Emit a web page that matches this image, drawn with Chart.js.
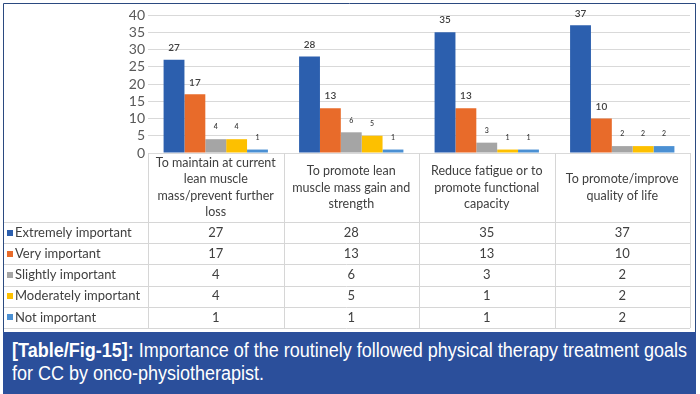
<!DOCTYPE html>
<html>
<head>
<meta charset="utf-8">
<script src="https://cdn.jsdelivr.net/npm/chart.js@4.4.1/dist/chart.umd.min.js"></script>
<style>
  body { margin: 0; background: #fff; width: 700px; height: 394px; overflow: hidden; position: relative; }
  #chart { position: absolute; left: 0; top: 0; }
  #caption {
    position: absolute; left: 3px; top: 332px; width: 693px; height: 62px;
    background: #2b4f9b; color: #fff; overflow: hidden;
  }
  #caption .inner {
    position: absolute; left: 9px; top: 7px; white-space: nowrap;
    font-family: "Liberation Sans", Arial, sans-serif; font-size: 20px; line-height: 23px;
    transform: scaleX(0.9); transform-origin: left top;
  }
  #caption b { font-weight: bold; }
</style>
</head>
<body>
<canvas id="chart" width="700" height="332"></canvas>
<div id="caption"><div class="inner"><b>[Table/Fig-15]:</b> Importance of the routinely followed physical therapy treatment goals<br>for CC by onco-physiotherapist.</div></div>
<script>
// categories (header cells, one entry per line)
const categories = [
    ['To maintain at current', 'lean muscle', 'mass/prevent further', 'loss'],
    ['To promote lean', 'muscle mass gain and', 'strength'],
    ['Reduce fatigue or to', 'promote functional', 'capacity'],
    ['To promote/improve', 'quality of life']
];

const seriesNames = ['Extremely important', 'Very important', 'Slightly important', 'Moderately important', 'Not important'];
const extremely = [27, 28, 35, 37];
const very = [17, 13, 13, 10];
const slightly = [4, 6, 3, 2];
const moderately = [4, 5, 1, 2];
const notImportant = [1, 1, 1, 2];

const yTicks = [0, 5, 10, 15, 20, 25, 30, 35, 40];

const colors = ['#2c5fae', '#e86b2a', '#a5a5a5', '#fdc000', '#4b90d3'];
const labelSizes = [10, 10, 7, 7, 7];

const TEXT = '#404040';
const FONT = 'Lato, "Open Sans", sans-serif';

// draws frame, value labels and the data table under the plot
const tablePlugin = {
    id: 'tablePlugin',
    afterDraw(chart) {
        const ctx = chart.ctx;
        const area = chart.chartArea;
        const xs = chart.scales.x;
        const n = categories.length;
        const colW = (area.right - area.left) / n;
        const frameL = 3, frameR = 695;
        const headTop = area.bottom, headH = 69, rowH = 21.2;

        ctx.save();

        // value labels above bars
        chart.data.datasets.forEach((ds, di) => {
            const meta = chart.getDatasetMeta(di);
            ctx.font = '600 ' + labelSizes[di] + 'px ' + FONT;
            ctx.fillStyle = TEXT;
            ctx.textAlign = 'center';
            ctx.textBaseline = 'middle';
            meta.data.forEach((bar, i) => {
                ctx.fillText(String(ds.data[i]), bar.x, bar.y - 12);
            });
        });

        // table grid
        ctx.strokeStyle = '#d6d6d6';
        ctx.lineWidth = 1;
        ctx.beginPath();
        for (let i = 0; i <= n; i++) {
            const x = Math.round(xs.getPixelForValue(0) - colW / 2 + i * colW) + 0.5;
            ctx.moveTo(x, headTop);
            ctx.lineTo(x, headTop + headH + rowH * seriesNames.length);
        }
        for (let r = 0; r <= seriesNames.length; r++) {
            const y = Math.round(headTop + headH + r * rowH) + 0.5;
            ctx.moveTo(frameL, y);
            ctx.lineTo(area.right, y);
        }
        ctx.stroke();

        // header text
        ctx.font = '12.5px ' + FONT;
        ctx.fillStyle = TEXT;
        ctx.textAlign = 'center';
        ctx.textBaseline = 'middle';
        const lineH = 16.3;
        categories.forEach((lines, i) => {
            const cx = xs.getPixelForValue(i);
            const cy = headTop + headH / 2;
            lines.forEach((t, k) => {
                ctx.fillText(t, cx, cy + (k - (lines.length - 1) / 2) * lineH);
            });
        });

        // data rows
        ctx.font = '13px ' + FONT;
        chart.data.datasets.forEach((ds, di) => {
            const cy = headTop + headH + di * rowH + rowH / 2;
            ctx.fillStyle = colors[di];
            ctx.fillRect(7, Math.round(cy - 3), 6, 6);
            ctx.fillStyle = TEXT;
            ctx.textAlign = 'left';
            ctx.fillText(ds.label, 15, cy);
            ctx.textAlign = 'center';
            ds.data.forEach((v, i) => {
                ctx.fillText(String(v), xs.getPixelForValue(i), cy);
            });
        });

        // outer frame
        ctx.strokeStyle = '#2b4a80';
        ctx.beginPath();
        ctx.moveTo(frameL + 0.5, chart.height);
        ctx.lineTo(frameL + 0.5, 3.5);
        ctx.lineTo(frameR + 0.5, 3.5);
        ctx.lineTo(frameR + 0.5, chart.height);
        ctx.stroke();

        ctx.restore();
    }
};

const seriesData = [extremely, very, slightly, moderately, notImportant];

new Chart(document.getElementById('chart'), {
    type: 'bar',
    data: {
        labels: categories.map(c => c.join(' ')),
        datasets: seriesNames.map((name, i) => ({
            label: name,
            data: seriesData[i],
            backgroundColor: colors[i],
            barPercentage: 1,
            categoryPercentage: 0.77
        }))
    },
    options: {
        responsive: false,
        animation: false,
        devicePixelRatio: 1,
        layout: { padding: { left: 0, top: 15, right: 10, bottom: 332 - 153 } },
        plugins: { legend: { display: false }, tooltip: { enabled: false } },
        scales: {
            x: { display: false },
            y: {
                min: 0, max: 40,
                afterFit: s => { s.width = 148; },
                afterBuildTicks: s => { s.ticks = yTicks.map(v => ({ value: v })); },
                ticks: { color: '#595959', font: { family: FONT, size: 14 }, padding: 3, autoSkip: false },
                grid: { color: '#d9d9d9', drawTicks: false },
                border: { display: false }
            }
        }
    },
    plugins: [tablePlugin]
});
</script>
</body>
</html>
